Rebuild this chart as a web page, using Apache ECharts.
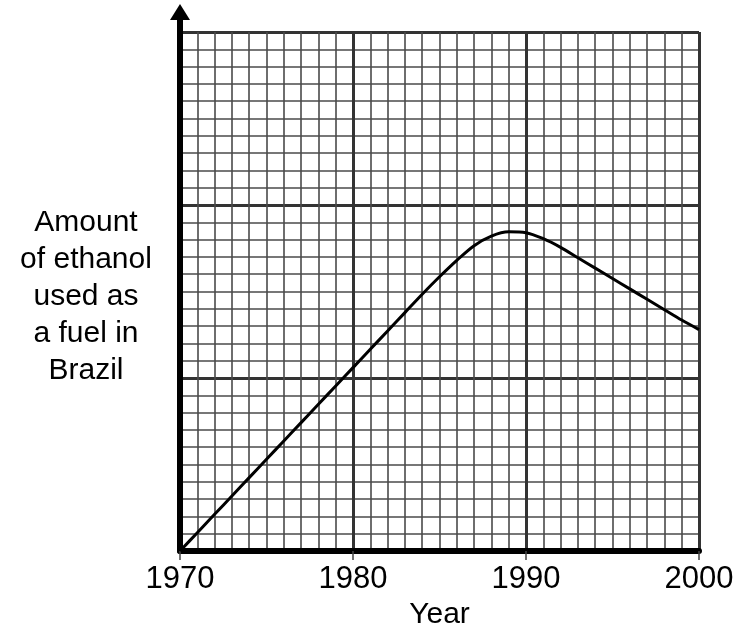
<!doctype html>
<html>
	<head>
		<meta charset="UTF-8">
		<title>Ethanol in Brazil</title>
		<script src="https://cdn.jsdelivr.net/npm/echarts@6/dist/echarts.min.js"></script>
		<style>
			html, body { margin: 0; padding: 0; background: #fff; }
			#main { width: 738px; height: 635px; }
		</style>
	</head>
	<body>
		<div id="main"></div>
		<script type="text/javascript">
			// data (y axis has no units, 0-30 grid squares)
			var years = [1970, 1971, 1972, 1973, 1974, 1975, 1976, 1977, 1978, 1979, 1980,
				1981, 1982, 1983, 1984, 1985, 1986, 1987, 1988, 1989, 1990,
				1991, 1992, 1993, 1994, 1995, 1996, 1997, 1998, 1999, 2000];
			var amount = [0, 1.06, 2.12, 3.18, 4.24, 5.3, 6.36, 7.42, 8.48, 9.54, 10.6,
				11.66, 12.72, 13.78, 14.84, 15.85, 16.8, 17.65, 18.2, 18.45, 18.4,
				18.05, 17.55, 16.95, 16.35, 15.75, 15.15, 14.55, 13.95, 13.35, 12.8];
			var xTicks = [1970, 1980, 1990, 2000];
			var yLabel = ['Amount', 'of ethanol', 'used as', 'a fuel in', 'Brazil'];
			var xLabel = 'Year';

			var font = '"Liberation Sans", Arial, sans-serif';
			var pts = [];
			for (var i = 0; i < years.length; i++) {
				pts.push([years[i], amount[i]]);
			}

			var myChart = echarts.init(document.getElementById('main'));
			var option = {
				animation: false,
				grid: { left: 180, right: 39, top: 32, bottom: 84 },
				xAxis: {
					type: 'value',
					min: xTicks[0],
					max: xTicks[xTicks.length - 1],
					interval: 10,
					name: xLabel,
					nameLocation: 'middle',
					nameGap: 48,
					nameTextStyle: { color: '#000', fontSize: 30, fontFamily: font },
					axisLine: { show: true, onZero: false, lineStyle: { color: '#000', width: 6 } },
					axisTick: { show: true, length: 9, lineStyle: { color: '#444', width: 1.5 } },
					axisLabel: {
						color: '#000', fontSize: 31, fontFamily: font, margin: 13,
						formatter: function (v) { return String(v); }
					},
					splitLine: { show: true, lineStyle: { color: '#333', width: 3 } },
					minorTick: { show: false, splitNumber: 10 },
					minorSplitLine: { show: true, lineStyle: { color: '#4a4a4a', width: 1.6 } }
				},
				yAxis: {
					type: 'value',
					min: 0,
					max: 30,
					interval: 10,
					axisLine: { show: true, lineStyle: { color: '#000', width: 6 } },
					axisTick: { show: false },
					axisLabel: { show: false },
					splitLine: { show: true, lineStyle: { color: '#333', width: 3 } },
					minorTick: { show: false, splitNumber: 10 },
					minorSplitLine: { show: true, lineStyle: { color: '#4a4a4a', width: 1.6 } }
				},
				series: [{
					type: 'line',
					data: pts,
					smooth: 0.3,
					showSymbol: false,
					lineStyle: { color: '#000', width: 3 },
					z: 5
				}]
			};
			myChart.setOption(option);

			// arrow on the y axis, reaching above the grid
			var base = myChart.convertToPixel({ xAxisIndex: 0, yAxisIndex: 0 }, [xTicks[0], 30]);
			var ax = base[0];
			var ay = base[1];
			myChart.setOption({
				graphic: [
					{
						type: 'line',
						shape: { x1: ax, y1: ay + 2, x2: ax, y2: ay - 16 },
						style: { stroke: '#000', lineWidth: 6 },
						z: 10
					},
					{
						type: 'polygon',
						shape: { points: [[ax, ay - 28], [ax - 10, ay - 12], [ax + 10, ay - 12]] },
						style: { fill: '#000' },
						z: 10
					},
					{
						type: 'text',
						x: 86,
						y: 204,
						style: {
							text: yLabel.join('\n'),
							fill: '#000',
							font: '30px ' + font,
							lineHeight: 37,
							align: 'center'
						}
					}
				]
			});
		</script>
	</body>
</html>
